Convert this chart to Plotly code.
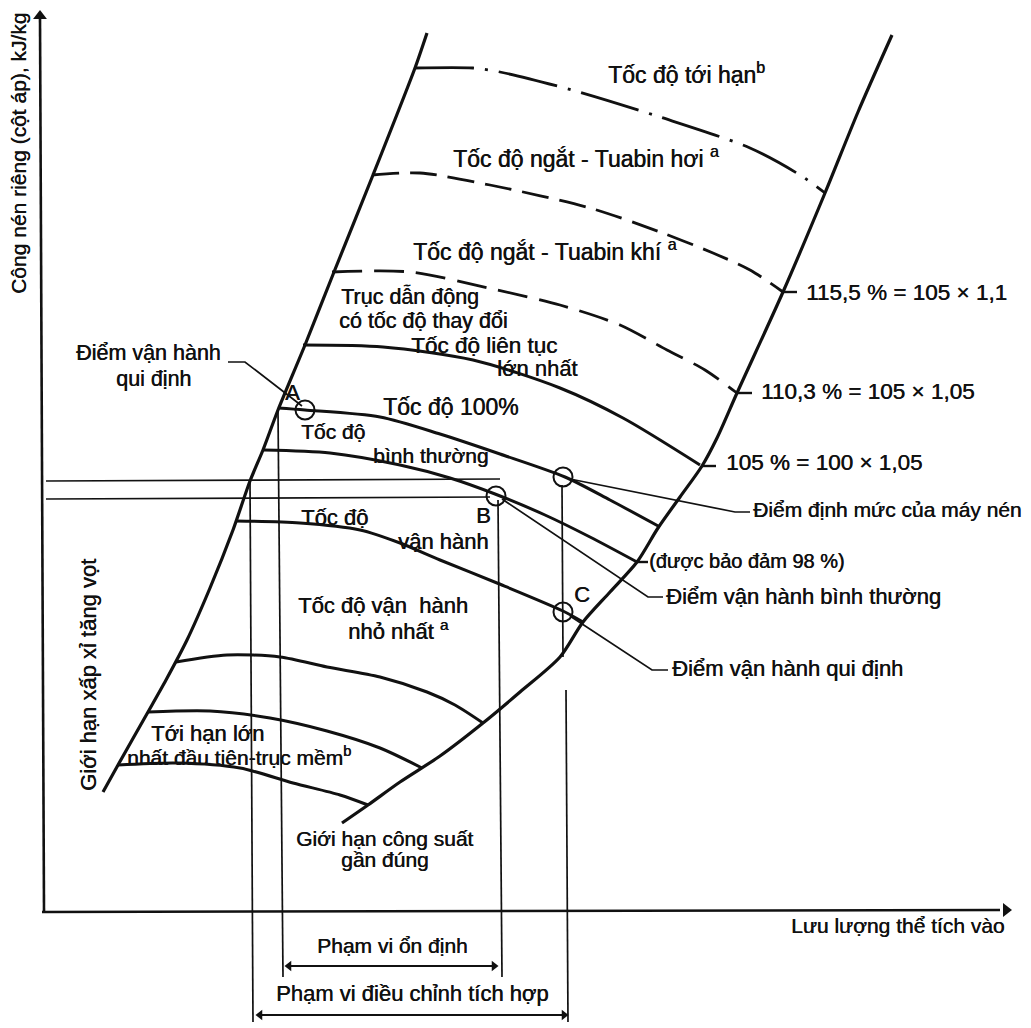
import plotly.graph_objects as go

# ---------------- data (coordinates, px space) ----------------
surge_x = [427, 415, 373, 334, 305, 278, 263, 250, 233, 210, 187, 166, 148, 118, 103]
surge_y = [33, 68, 175, 272, 345, 410, 450, 481, 530, 588, 640, 680, 712, 765, 792]

choke_x = [892, 858, 825, 783, 737, 717, 702, 680, 658, 637, 610, 583, 560, 520, 483, 440, 400, 368, 342]
choke_y = [35, 112, 193, 292, 393, 438, 466, 497, 528, 562, 592, 622, 657, 692, 723, 756, 782, 805, 823]

crit_x = [414, 473, 500, 572, 660, 750, 800, 825]
crit_y = [68, 68, 72, 90, 117, 148, 175, 193]

steam_x = [372, 420, 490, 590, 660, 713, 750, 783]
steam_y = [175, 173, 185, 208, 232, 253, 270, 292]

gas_x = [332, 410, 493, 560, 620, 667, 705, 737]
gas_y = [272, 272, 289, 305, 325, 350, 370, 393]

maxc_x = [303, 383, 473, 560, 623, 700]
maxc_y = [345, 347, 360, 388, 418, 465]

hund_x = [278, 305, 380, 440, 500, 565, 610, 660]
hund_y = [408, 410, 417, 434, 454, 477, 500, 527]

norm_x = [264, 330, 400, 450, 495, 545, 590, 637]
norm_y = [450, 453, 465, 478, 494, 515, 537, 562]

oper_x = [236, 300, 360, 400, 440, 497, 563, 583]
oper_y = [521, 523, 530, 543, 560, 583, 611, 622]

minop_x = [176, 227, 280, 327, 380, 427, 455, 483]
minop_y = [662, 655, 657, 667, 677, 692, 705, 723]

crit1a_x = [148, 210, 270, 327, 380, 422]
crit1a_y = [712, 711, 718, 731, 748, 768]
crit1b_x = [118, 177, 240, 293, 340, 368]
crit1b_y = [765, 763, 768, 783, 795, 805]

# operating points: A, rated point, B, C
pt_x = [305, 563, 496, 563]
pt_y = [410, 477, 496, 612]

# axes of the diagram
yaxis_line_x = [44, 40]
yaxis_line_y = [912, 18]
xaxis_line_x = [42, 1000]
xaxis_line_y = [912, 910]

# projection lines (horizontal / vertical)
proj_lines = [
    ([46, 500], [481, 479]),
    ([46, 490], [499, 497]),
    ([250, 253], [481, 1022]),
    ([278, 283], [410, 977]),
    ([498, 502], [500, 977]),
    ([562, 563], [485, 657]),
    ([566, 568], [690, 1022]),
]
# leader lines
leaders = [
    ([228, 245, 302], [362, 362, 406]),
    ([570, 735, 750], [479, 512, 512]),
    ([502, 648, 663], [499, 597, 597]),
    ([570, 652, 668], [616, 670, 670]),
]
# ticks on the choke line
ticks = [
    ([783, 797], [292, 292]),
    ([737, 752], [393, 393]),
    ([702, 716], [466, 466]),
    ([637, 648], [562, 562]),
]
# dimension arrows (stable range, integrated control range)
range_lines = [
    ([287, 496], [966, 966]),
    ([258, 566], [1015, 1015]),
]

fig = go.Figure()
INK = "#111111"


def add_line(xs, ys, width=3.0, dash="solid", shape="spline", smoothing=0.8):
    fig.add_trace(go.Scatter(
        x=xs, y=ys, mode="lines",
        line=dict(color=INK, width=width, dash=dash, shape=shape,
                  smoothing=smoothing if shape == "spline" else None),
        hoverinfo="skip", showlegend=False))


def add_heads(xs, ys, symbols, size=11):
    fig.add_trace(go.Scatter(
        x=xs, y=ys, mode="markers",
        marker=dict(symbol=symbols, size=size, color=INK, line=dict(width=0)),
        hoverinfo="skip", showlegend=False))


add_line(surge_x, surge_y, 3.2, smoothing=0.7)
add_line(choke_x, choke_y, 3.2, smoothing=0.8)
add_line(crit_x, crit_y, 2.8, dash="60px,11px,3px,11px")
add_line(steam_x, steam_y, 2.8, dash="27px,11px")
add_line(gas_x, gas_y, 2.8, dash="30px,12px")
add_line(maxc_x, maxc_y, 3.0)
add_line(hund_x, hund_y, 3.0)
add_line(norm_x, norm_y, 3.0)
add_line(oper_x, oper_y, 3.0)
add_line(minop_x, minop_y, 3.0)
add_line(crit1a_x, crit1a_y, 3.0)
add_line(crit1b_x, crit1b_y, 3.0)

add_line(yaxis_line_x, yaxis_line_y, 2.6, shape="linear")
add_line(xaxis_line_x, xaxis_line_y, 2.6, shape="linear")

for xs, ys in proj_lines:
    add_line(xs, ys, 1.7, shape="linear")
for xs, ys in leaders:
    add_line(xs, ys, 1.7, shape="linear")
for xs, ys in ticks:
    add_line(xs, ys, 2.4, shape="linear")
for xs, ys in range_lines:
    add_line(xs, ys, 1.8, shape="linear")

# arrow heads
add_heads([40], [16], ["triangle-up"], 12)
add_heads([1006], [910], ["triangle-right"], 12)
add_heads([289, 494, 260, 564], [966, 966, 1015, 1015],
          ["triangle-left", "triangle-right", "triangle-left", "triangle-right"], 9)

fig.add_trace(go.Scatter(
    x=pt_x, y=pt_y, mode="markers",
    marker=dict(symbol="circle-open", size=19, color=INK, line=dict(width=2, color=INK)),
    hoverinfo="skip", showlegend=False))

FONT = "Liberation Sans, Arial, sans-serif"
FS = 21


def label(txt, x, y, anchor="left", size=FS, angle=0):
    fig.add_annotation(x=x, y=y, xref="x", yref="y", text=txt, showarrow=False,
                       xanchor=anchor, yanchor="middle", textangle=angle, borderpad=0,
                       font=dict(family=FONT, size=size, color=INK,
                                 shadow="0.45px 0px 0px #111111"))


label("Công nén riêng (cột áp), kJ/kg", 18, 154, "center", angle=-90)
label("Tốc độ tới hạn<sup>b</sup>", 607, 73, size=23)
label("Tốc độ ngắt - Tuabin hơi <sup>a</sup>", 452, 157, size=23)
label("Tốc độ ngắt - Tuabin khí <sup>a</sup>", 412, 250, size=23)
label("Trục dẫn động", 340, 296, size=21.5)
label("có tốc độ thay đổi", 338, 321, size=21.5)
label("Tốc độ liên tục", 410, 345, size=22.5)
label("lớn nhất", 496, 368, size=22)
label("115,5 % = 105 × 1,1", 805, 292, size=22.5)
label("110,3 % = 105 × 1,05", 760, 391, size=22.5)
label("105 % = 100 × 1,05", 725, 462, size=22.5)
label("Điểm vận hành", 75, 353, size=21.5)
label("qui định", 115, 379, size=21.5)
label("A", 292, 392, "center", size=22)
label("Tốc độ 100%", 382, 407, size=23)
label("Tốc độ", 300, 431)
label("bình thường", 372, 455)
label("Điểm định mức của máy nén", 752, 509)
label("B", 483, 515, "center", size=22)
label("Tốc độ", 300, 517, size=22)
label("vận hành", 397, 541, size=22)
label("(được bảo đảm 98 %)", 648, 561, size=20)
label("Điểm vận hành bình thường", 665, 596, size=22)
label("C", 582, 594, "center", size=22)
label("Tốc độ vận\u00a0 hành", 297, 605, size=22)
label("nhỏ nhất <sup>a</sup>", 347, 630, size=22)
label("Điểm vận hành qui định", 671, 668, size=22)
label("Giới hạn xấp xỉ tăng vọt", 88, 675, "center", size=22, angle=-90)
label("Tới hạn lớn", 150, 733, size=22)
label("nhất đầu tiên-trục mềm<sup>b</sup>", 126, 756)
label("Giới hạn công suất", 295, 838)
label("gần đúng", 340, 859)
label("Lưu lượng thể tích vào", 790, 925)
label("Phạm vi ổn định", 392, 945, "center")
label("Phạm vi điều chỉnh tích hợp", 412, 993, "center", size=22)

fig.update_layout(
    width=1031, height=1028,
    margin=dict(l=0, r=0, t=0, b=0),
    paper_bgcolor="white", plot_bgcolor="white",
    xaxis=dict(range=[0, 1031], visible=False, fixedrange=True),
    yaxis=dict(range=[1028, 0], visible=False, fixedrange=True),
    showlegend=False,
)

fig.write_html("out.html", config={"displayModeBar": False},
               post_script="document.body.style.margin='0';document.body.style.overflow='hidden';")
